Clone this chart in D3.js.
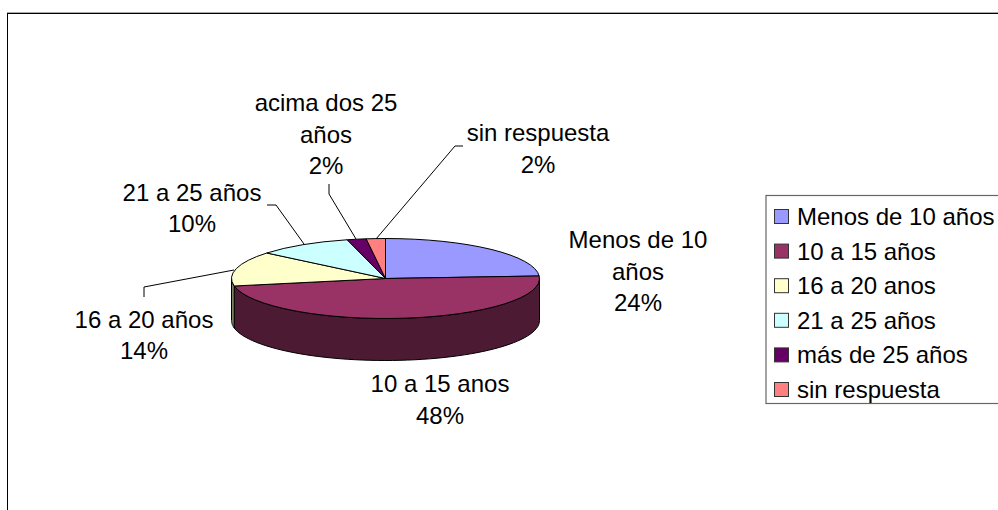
<!DOCTYPE html>
<html>
<head>
<meta charset="utf-8">
<script src="https://cdn.jsdelivr.net/npm/d3@7"></script>
<style>
html, body { margin: 0; padding: 0; background: #fff; overflow: hidden; }
text { font-family: "Liberation Sans", Arial, sans-serif; font-size: 24px; fill: #000; }
</style>
</head>
<body>
<div id="chartDiv"></div>
<script>
var categories = ["Menos de 10 años", "10 a 15 años", "16 a 20 anos", "21 a 25 años", "más de 25 años", "sin respuesta"];
var values = [24, 48, 14, 10, 2, 2];
var topColors = ["#9999ff", "#993366", "#ffffcc", "#ccffff", "#660066", "#ff8080"];
var sideColors = ["#4d4d80", "#4d1a33", "#808066", "#668080", "#330033", "#804040"];
var sliceLabels = [
    ["Menos de 10", "años", "24%"],
    ["10 a 15 anos", "48%"],
    ["16 a 20 años", "14%"],
    ["21 a 25 años", "10%"],
    ["acima dos 25", "años", "2%"],
    ["sin respuesta", "2%"]
];
var labelX = [638, 440, 144, 192, 326, 538];
var labelBase = [248, 392, 327.5, 200.5, 111, 141];
var leaders = [
    null,
    null,
    [[234, 270], [144, 287], [144, 297]],
    [[304, 244], [276, 205], [267, 205]],
    [[356, 239], [329, 194], [329, 184]],
    [[376, 239], [455, 146], [463, 146]]
];

var width = 998;
var height = 510;
var cx = 385.5;
var cy = 278.5;
var rx = 154;
var ry = 40;
var depth = 42;
var lineHeight = 31.7;

var svg = d3.select("#chartDiv")
    .append("svg")
    .attr("width", width)
    .attr("height", height)
    .style("display", "block");

// chart frame, runs off the right and bottom of the picture
svg.append("rect")
    .attr("x", 7.5)
    .attr("y", 13.5)
    .attr("width", 1100)
    .attr("height", 600)
    .attr("fill", "#fff")
    .attr("stroke", "#000")
    .attr("stroke-width", 1);
svg.append("line")
    .attr("x1", 7)
    .attr("x2", width)
    .attr("y1", 12.5)
    .attr("y2", 12.5)
    .attr("stroke", "#aaa")
    .attr("stroke-width", 1);

var arcs = d3.pie().sort(null).value(function(d) { return d; })(values);

function px(a) { return cx + rx * Math.sin(a); }
function py(a, dy) { return cy - ry * Math.cos(a) + dy; }

// side wall, only the part of each slice facing the viewer
var lo = Math.PI / 2;
var hi = Math.PI * 1.5;
arcs.forEach(function(d, i) {
    var a0 = Math.max(d.startAngle, lo);
    var a1 = Math.min(d.endAngle, hi);
    if (a1 <= a0) return;
    var angles = d3.range(0, 61).map(function(k) { return a0 + (a1 - a0) * k / 60; });
    var wall = d3.area()
        .x(function(a) { return px(a); })
        .y0(function(a) { return py(a, 0); })
        .y1(function(a) { return py(a, depth); });
    svg.append("path")
        .attr("d", wall(angles))
        .attr("fill", sideColors[i])
        .attr("stroke", "#000")
        .attr("stroke-width", 1);
});

// top face
var arc = d3.arc().innerRadius(0).outerRadius(rx);
svg.append("g")
    .attr("transform", "translate(" + cx + "," + cy + ") scale(1," + (ry / rx) + ")")
    .selectAll("path")
    .data(arcs)
    .enter()
    .append("path")
    .attr("d", arc)
    .attr("fill", function(d, i) { return topColors[i]; })
    .attr("stroke", "#000")
    .attr("stroke-width", 1)
    .attr("vector-effect", "non-scaling-stroke");

// leader lines
var leaderLine = d3.line();
leaders.forEach(function(pts) {
    if (!pts) return;
    svg.append("path")
        .attr("d", leaderLine(pts))
        .attr("fill", "none")
        .attr("stroke", "#000")
        .attr("stroke-width", 1);
});

// slice labels
sliceLabels.forEach(function(lines, i) {
    lines.forEach(function(s, j) {
        svg.append("text")
            .attr("x", labelX[i])
            .attr("y", labelBase[i] + lineHeight * j)
            .attr("text-anchor", "middle")
            .text(s);
    });
});

// legend
var legendY = d3.scalePoint().domain(categories).range([217, 390]);
svg.append("rect")
    .attr("x", 766)
    .attr("y", 195.5)
    .attr("width", 300)
    .attr("height", 208)
    .attr("fill", "#fff")
    .attr("stroke", "#666")
    .attr("stroke-width", 1.2);

var rows = svg.selectAll(".row")
    .data(categories)
    .enter()
    .append("g")
    .attr("class", "row")
    .attr("transform", function(d) { return "translate(0," + legendY(d) + ")"; });

rows.append("rect")
    .attr("x", 774.5)
    .attr("y", -7.5)
    .attr("width", 14)
    .attr("height", 14)
    .attr("fill", function(d, i) { return topColors[i]; })
    .attr("stroke", "#333")
    .attr("stroke-width", 1);

rows.append("text")
    .attr("x", 797)
    .attr("y", 8)
    .text(function(d) { return d; });
</script>
</body>
</html>
